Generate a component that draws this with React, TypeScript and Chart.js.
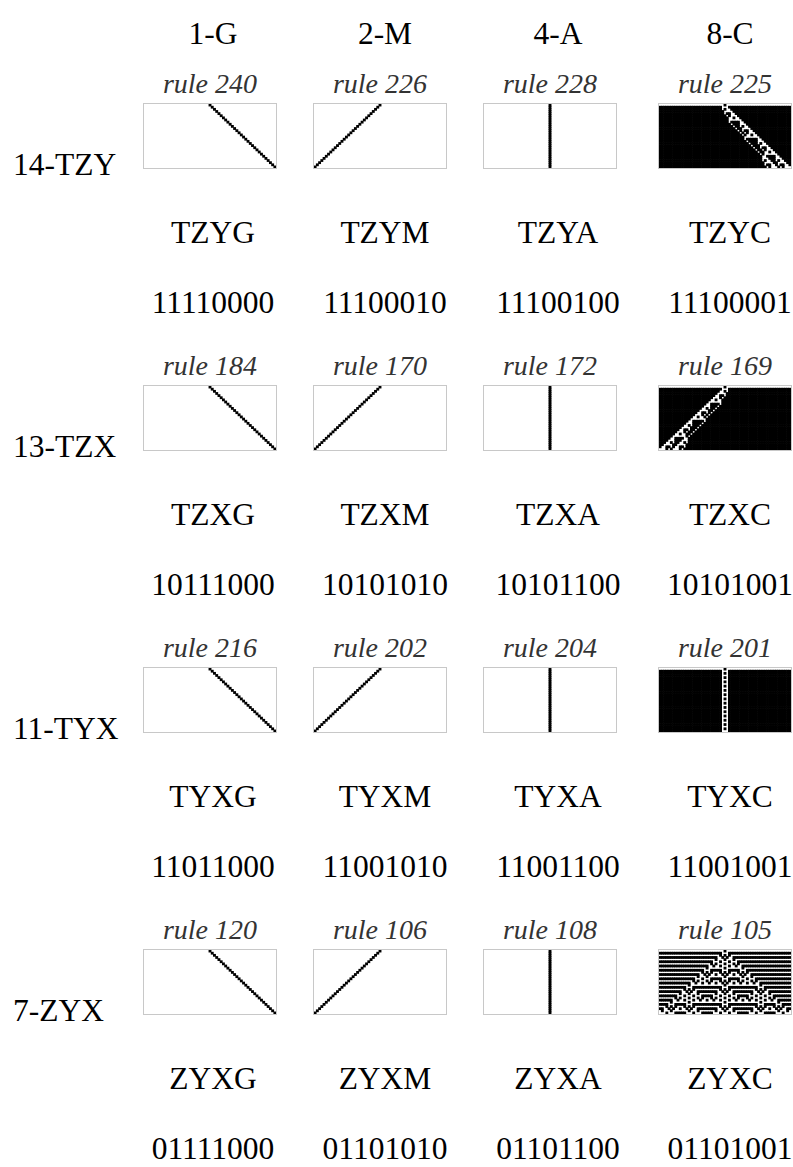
import React, { useEffect, useRef } from "react";
import { Chart, registerables } from "chart.js";

Chart.register(...registerables);

// ---------- data ----------
const COL_LABELS = ["1-G", "2-M", "4-A", "8-C"];
const ROW_LABELS = ["14-TZY", "13-TZX", "11-TYX", "7-ZYX"];
const RULES_ROW1 = [240, 226, 228, 225];
const RULES_ROW2 = [184, 170, 172, 169];
const RULES_ROW3 = [216, 202, 204, 201];
const RULES_ROW4 = [120, 106, 108, 105];
const NAMES_ROW1 = ["TZYG", "TZYM", "TZYA", "TZYC"];
const NAMES_ROW2 = ["TZXG", "TZXM", "TZXA", "TZXC"];
const NAMES_ROW3 = ["TYXG", "TYXM", "TYXA", "TYXC"];
const NAMES_ROW4 = ["ZYXG", "ZYXM", "ZYXA", "ZYXC"];
const CODES_ROW1 = ["11110000", "11100010", "11100100", "11100001"];
const CODES_ROW2 = ["10111000", "10101010", "10101100", "10101001"];
const CODES_ROW3 = ["11011000", "11001010", "11001100", "11001001"];
const CODES_ROW4 = ["01111000", "01101010", "01101100", "01101001"];
const STEPS = 29; // generations after the initial single black cell

const RULES = [RULES_ROW1, RULES_ROW2, RULES_ROW3, RULES_ROW4];
const NAMES = [NAMES_ROW1, NAMES_ROW2, NAMES_ROW3, NAMES_ROW4];
const CODES = [CODES_ROW1, CODES_ROW2, CODES_ROW3, CODES_ROW4];

// ---------- layout ----------
const ROW_STEP = 282;
const TEXT_CX = [213, 385, 558, 730];
const BOX_LEFT = [143, 313, 483, 658];
const BOX_W = 134;
const BOX_H = 66;
const SERIF = "'Liberation Serif', 'Times New Roman', serif";

// elementary cellular automaton evolution from a single black cell
function evolve(rule: number, steps: number): number[][] {
  const w = 2 * steps + 1;
  const rows: number[][] = [];
  let cur = new Array(w).fill(0);
  cur[steps] = 1;
  let bg = 0;
  rows.push(cur);
  for (let t = 0; t < steps; t++) {
    const next = new Array(w).fill(0);
    for (let i = 0; i < w; i++) {
      const l = i > 0 ? cur[i - 1] : bg;
      const c = cur[i];
      const r = i < w - 1 ? cur[i + 1] : bg;
      next[i] = (rule >> ((l << 2) | (c << 1) | r)) & 1;
    }
    bg = (rule >> ((bg << 2) | (bg << 1) | bg)) & 1;
    cur = next;
    rows.push(cur);
  }
  return rows;
}

function Panel({ rule }: { rule: number }) {
  const ref = useRef<HTMLCanvasElement>(null);
  useEffect(() => {
    const grid = evolve(rule, STEPS);
    const w = grid[0].length;
    const labels = Array.from({ length: w }, (_, i) => String(i));
    const datasets = grid.map((row, t) => ({
      data: row.map((v) => (v ? [t, t + 1] : null)) as any,
      backgroundColor: "#000",
      borderWidth: 0,
      grouped: false,
      barPercentage: 1,
      categoryPercentage: 1,
    }));
    const chart = new Chart(ref.current!, {
      type: "bar",
      data: { labels, datasets },
      options: {
        animation: false,
        responsive: false,
        maintainAspectRatio: false,
        events: [],
        layout: { padding: 0 },
        plugins: { legend: { display: false }, tooltip: { enabled: false } },
        scales: {
          x: { display: false },
          y: { display: false, min: 0, max: grid.length, reverse: true },
        },
      },
    });
    return () => chart.destroy();
  }, [rule]);
  return <canvas ref={ref} width={BOX_W - 2} height={BOX_H - 2} style={{ display: "block" }} />;
}

function Txt({
  text, cx, left, baseline, size, italic, color,
}: {
  text: string; cx?: number; left?: number; baseline: number; size: number; italic?: boolean; color?: string;
}) {
  const top = baseline - 0.8375 * size;
  const style: React.CSSProperties = {
    position: "absolute",
    top,
    fontFamily: SERIF,
    fontSize: size,
    lineHeight: `${size}px`,
    fontStyle: italic ? "italic" : "normal",
    color: color || "#000",
    whiteSpace: "nowrap",
  };
  if (cx !== undefined) {
    style.left = cx - 120;
    style.width = 240;
    style.textAlign = "center";
  } else {
    style.left = left;
  }
  return <div style={style}>{text}</div>;
}

export default function App() {
  const items: React.ReactNode[] = [];
  COL_LABELS.forEach((c, j) => {
    items.push(<Txt key={"h" + j} text={c} cx={TEXT_CX[j]} baseline={44} size={31.5} />);
  });
  RULES.forEach((rules, i) => {
    const off = i * ROW_STEP;
    items.push(<Txt key={"r" + i} text={ROW_LABELS[i]} left={13} baseline={175 + off} size={31.5} />);
    rules.forEach((rule, j) => {
      items.push(
        <Txt key={`rl${i}-${j}`} text={`rule ${rule}`} cx={BOX_LEFT[j] + BOX_W / 2} baseline={93 + off} size={28} italic color="#333" />
      );
      items.push(
        <div
          key={`b${i}-${j}`}
          style={{
            position: "absolute",
            left: BOX_LEFT[j],
            top: 103 + off,
            width: BOX_W,
            height: BOX_H,
            border: "1px solid #c8c8c8",
            boxSizing: "border-box",
            background: "#fff",
          }}
        >
          <Panel rule={rule} />
        </div>
      );
      items.push(<Txt key={`n${i}-${j}`} text={NAMES[i][j]} cx={TEXT_CX[j]} baseline={243 + off} size={31.5} />);
      items.push(<Txt key={`c${i}-${j}`} text={CODES[i][j]} cx={TEXT_CX[j]} baseline={313 + off} size={31.5} />);
    });
  });
  return (
    <div style={{ position: "absolute", left: 0, top: 0, width: 793, height: 1167, overflow: "hidden", background: "#fff" }}>
      {items}
    </div>
  );
}
